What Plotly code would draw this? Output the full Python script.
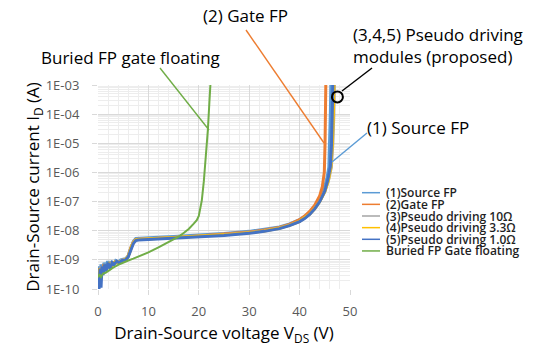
import plotly.graph_objects as go

# ---------------- data ----------------
series_names = ["(1)Source FP", "(2)Gate FP", "(3)Pseudo driving 10Ω",
                "(4)Pseudo driving 3.3Ω", "(5)Pseudo driving 1.0Ω", "Buried FP Gate floating"]
series_colors = ["#5B9BD5", "#ED7D31", "#A5A5A5", "#FFC000", "#4472C4", "#70AD47"]

v1 = [0, 0.2, 0.4, 0.6, 0.9, 1.2, 1.5, 1.9, 2.3, 2.7, 3.1, 3.5, 4.0, 4.5, 5.0, 5.5, 6.0, 6.5, 7.0, 7.5, 8,
      10, 12, 15, 20, 25, 30, 33, 36, 38, 40, 41, 42, 43, 44, 44.8, 45.4, 45.8, 46.0, 46.1, 46.2]
i1 = [3e-10, 6e-10, 2e-10, 7e-10, 4e-10, 8e-10, 5e-10, 9e-10, 6e-10, 9e-10, 7e-10, 9.5e-10, 8.5e-10, 1e-9,
      1.05e-9, 1.1e-9, 1.4e-9, 2.7e-9, 4.3e-9, 5.4e-9, 5.5e-9, 5.8e-9, 6e-9, 6.3e-9, 7e-9, 8e-9, 9.5e-9,
      1.1e-8, 1.35e-8, 1.7e-8, 2.4e-8, 3.1e-8, 4.3e-8, 6.5e-8, 1.2e-7, 2.6e-7, 6e-7, 1.5e-6, 1e-5, 1e-4, 1e-3]

v2 = [0, 0.3, 0.7, 1.1, 1.6, 2.1, 2.6, 3.2, 3.8, 4.5, 5.0, 5.5, 6.0, 6.5, 7.0, 7.5, 8,
      10, 12, 15, 20, 25, 30, 33, 36, 38, 40, 41, 42, 43, 44, 44.5, 44.9, 45.05, 45.15, 45.2]
i2 = [3e-10, 5e-10, 3e-10, 6e-10, 5e-10, 7e-10, 6e-10, 8e-10, 8e-10, 9e-10, 1e-9, 1.05e-9, 1.35e-9, 2.6e-9,
      4e-9, 5e-9, 5.1e-9, 5.4e-9, 5.6e-9, 5.9e-9, 6.6e-9, 7.6e-9, 9e-9, 1.05e-8, 1.3e-8, 1.65e-8, 2.4e-8,
      3.2e-8, 4.6e-8, 7.5e-8, 1.6e-7, 3.2e-7, 1e-6, 1e-5, 1e-4, 1e-3]

v3 = [0, 0.3, 0.6, 1.0, 1.4, 1.9, 2.4, 3.0, 3.6, 4.2, 4.8, 5.5, 6.0, 6.5, 7.0, 7.5, 8,
      10, 12, 15, 20, 25, 30, 33, 36, 38, 40, 41, 42, 43, 44, 45, 45.7, 46.3, 46.6, 46.8, 46.9]
i3 = [2.5e-10, 4e-10, 6e-10, 3.5e-10, 7e-10, 5e-10, 8e-10, 7e-10, 9e-10, 8.5e-10, 1e-9, 1.05e-9, 1.35e-9,
      2.5e-9, 3.8e-9, 4.9e-9, 5.1e-9, 5.3e-9, 5.5e-9, 5.8e-9, 6.4e-9, 7.3e-9, 8.7e-9, 1e-8, 1.25e-8,
      1.55e-8, 2.1e-8, 2.7e-8, 3.7e-8, 5.8e-8, 1e-7, 2.2e-7, 5e-7, 1.5e-6, 1e-5, 1e-4, 1e-3]

v4 = [0, 0.4, 0.8, 1.2, 1.7, 2.2, 2.8, 3.4, 4.0, 4.6, 5.2, 5.7, 6.2, 6.7, 7.2, 7.6, 8,
      10, 12, 15, 20, 25, 30, 33, 36, 38, 40, 41, 42, 43, 44, 45, 45.7, 46.2, 46.5, 46.7, 46.8]
i4 = [3e-10, 5e-10, 3.5e-10, 6e-10, 5e-10, 7.5e-10, 6.5e-10, 8.5e-10, 8e-10, 9e-10, 1e-9, 1.1e-9, 1.6e-9,
      3e-9, 4.3e-9, 4.9e-9, 5e-9, 5.2e-9, 5.4e-9, 5.7e-9, 6.3e-9, 7.2e-9, 8.5e-9, 9.8e-9, 1.22e-8,
      1.52e-8, 2.1e-8, 2.7e-8, 3.7e-8, 5.7e-8, 1e-7, 2.2e-7, 5.2e-7, 1.5e-6, 1e-5, 1e-4, 1e-3]

v5 = [0, 0.2, 0.4, 0.6, 0.8, 1.0, 1.3, 1.6, 2.0, 2.4, 2.8, 3.2, 3.7, 4.2, 4.8, 5.5, 6.0, 6.5, 7.0, 7.5, 8,
      10, 12, 15, 20, 25, 30, 33, 36, 38, 40, 41, 42, 43, 44, 45, 45.6, 46.1, 46.35, 46.5, 46.6]
i5 = [2e-10, 1e-10, 5e-10, 1.1e-10, 6e-10, 3e-10, 7e-10, 4e-10, 8e-10, 5e-10, 8e-10, 7e-10, 9e-10, 8e-10,
      9.5e-10, 1e-9, 1.25e-9, 2.3e-9, 3.6e-9, 4.6e-9, 4.8e-9, 5e-9, 5.2e-9, 5.5e-9, 6.1e-9, 6.9e-9, 8.2e-9,
      9.5e-9, 1.18e-8, 1.5e-8, 2.05e-8, 2.6e-8, 3.6e-8, 5.6e-8, 1e-7, 2.3e-7, 5.5e-7, 1.6e-6, 1e-5, 1e-4, 1e-3]

vg = [0, 0.3, 0.6, 1, 1.5, 2, 3, 4, 5, 6, 7, 8, 10, 12, 14, 15, 16, 17, 18, 19, 19.6, 20, 20.3,
      20.6, 21.0, 21.4, 21.8, 22.1, 22.3]
ig = [2.5e-10, 3.2e-10, 2.6e-10, 3.4e-10, 3.6e-10, 4.2e-10, 5.4e-10, 6.7e-10, 8.2e-10, 9.5e-10, 1.1e-9,
      1.3e-9, 1.8e-9, 2.7e-9, 4e-9, 5e-9, 6.3e-9, 8.3e-9, 1.15e-8, 1.75e-8, 2.3e-8, 3.2e-8, 5.5e-8,
      1.1e-7, 5e-7, 3e-6, 2.9e-5, 2.5e-4, 1e-3]

series_v = [v1, v2, v3, v4, v5, vg]
series_i = [i1, i2, i3, i4, i5, ig]
series_width = [3, 3, 3, 3, 3, 2]

y_tick_vals = [1e-10, 1e-9, 1e-8, 1e-7, 1e-6, 1e-5, 1e-4, 1e-3]
y_tick_text = ["1E-10", "1E-09", "1E-08", "1E-07", "1E-06", "1E-05", "1E-04", "1E-03"]
x_tick_vals = [0, 10, 20, 30, 40, 50]

marker_v = [47.5]
marker_i = [3.9e-4]

# ---------------- figure ----------------
FONT = "Open Sans"
L, R, T, B = 98, 190, 85, 58
W, H = 540, 347
PW, PH = W - L - R, H - T - B


def px(X):
    return (X - L) / PW


def py(Y):
    return (H - B - Y) / PH


fig = go.Figure()
for name, col, v, i, w in zip(series_names, series_colors, series_v, series_i, series_width):
    fig.add_trace(go.Scatter(x=v, y=i, mode="lines", name=name,
                             line=dict(color=col, width=w), showlegend=False))

fig.add_trace(go.Scatter(x=marker_v, y=marker_i, mode="markers", showlegend=False,
                         marker=dict(symbol="circle-open", size=11, color="black",
                                     line=dict(width=2, color="black"))))

grid_major = "#D9D9D9"
grid_minor = "#EDEDED"

fig.update_xaxes(range=[0, 50], tickvals=x_tick_vals, showgrid=True, gridcolor=grid_major,
                 gridwidth=1, zeroline=False, showline=False, ticks="outside", ticklen=5,
                 tickcolor=grid_major, ticklabelstandoff=5, automargin=False,
                 minor=dict(dtick=2, showgrid=True, gridcolor=grid_minor, gridwidth=1),
                 tickfont=dict(family=FONT, size=13, color="#595959"),
                 title=dict(text="Drain-Source voltage V<sub>DS</sub> (V)", standoff=8,
                            font=dict(family=FONT, size=17, color="#000000")))
fig.update_yaxes(type="log", range=[-10, -3], tickvals=y_tick_vals, ticktext=y_tick_text,
                 showgrid=True, gridcolor=grid_major, gridwidth=1, zeroline=False, showline=False,
                 ticks="outside", ticklen=5, tickcolor=grid_major, ticklabelstandoff=10,
                 automargin=False,
                 minor=dict(dtick="D1", showgrid=True, gridcolor=grid_minor, gridwidth=1),
                 tickfont=dict(family=FONT, size=13, color="#595959"),
                 title=dict(text="Drain-Source current I<sub>D</sub> (A)", standoff=0,
                            font=dict(family=FONT, size=17, color="#000000")))

anns = []
shapes = []
# leader lines (page pixel endpoints converted to paper fractions)
leaders = [
    (160, 68, 209, 130, "#70AD47"),
    (246, 30, 324, 143, "#ED7D31"),
    (372, 68, 342, 91, "#000000"),
    (367, 133, 332, 162, "#5B9BD5"),
]
for X0, Y0, X1, Y1, col in leaders:
    shapes.append(dict(type="line", xref="paper", yref="paper", x0=px(X0), y0=py(Y0),
                       x1=px(X1), y1=py(Y1), line=dict(color=col, width=1.4)))

label_font = dict(family=FONT, size=17, color="#000000")
anns.append(dict(x=px(130), y=py(57), xref="paper", yref="paper", text="Buried FP gate floating",
                 showarrow=False, xanchor="center", yanchor="middle", font=label_font))
anns.append(dict(x=px(245), y=py(15), xref="paper", yref="paper", text="(2) Gate FP",
                 showarrow=False, xanchor="center", yanchor="middle", font=label_font))
anns.append(dict(x=px(351), y=py(45), xref="paper", yref="paper",
                 text="(3,4,5) Pseudo driving<br>modules (proposed)", align="left",
                 showarrow=False, xanchor="left", yanchor="middle", font=label_font))
anns.append(dict(x=px(365), y=py(127), xref="paper", yref="paper", text="(1) Source FP",
                 showarrow=False, xanchor="left", yanchor="middle", font=label_font))

# custom compact legend
leg_y0, leg_dy = 192.7, 11.65
for k, (name, col) in enumerate(zip(series_names, series_colors)):
    yy = py(leg_y0 + k * leg_dy)
    shapes.append(dict(type="line", xref="paper", yref="paper", x0=px(362), x1=px(380),
                       y0=yy, y1=yy, line=dict(color=col, width=1.5)))
    anns.append(dict(x=px(385), y=yy, xref="paper", yref="paper", text=name, showarrow=False,
                     xanchor="left", yanchor="middle", borderpad=0,
                     font=dict(family=FONT, size=12, color="#1F1F1F", weight=600)))

fig.update_layout(width=W, height=H, margin=dict(l=L, r=R, t=T, b=B, autoexpand=False),
                  paper_bgcolor="white", plot_bgcolor="white",
                  annotations=anns, shapes=shapes, showlegend=False)

fig.write_html("out.html")
